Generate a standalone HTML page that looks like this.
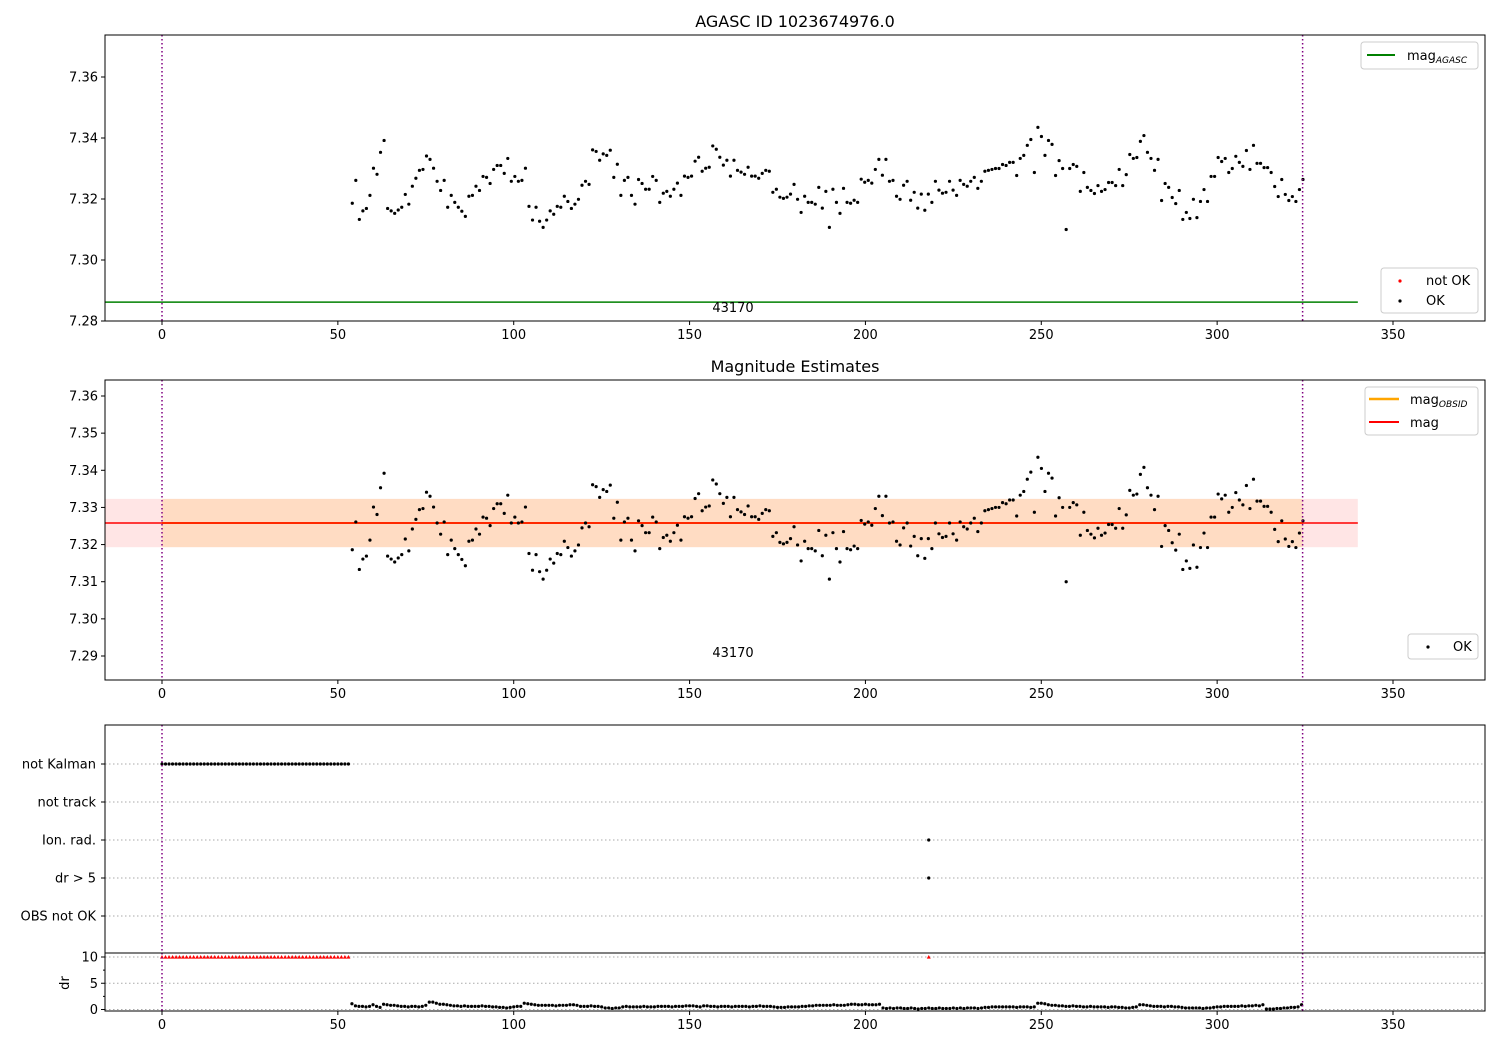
<!DOCTYPE html>
<html><head><meta charset="utf-8"><style>
body{margin:0;background:#fff;}
svg{display:block;font-family:"DejaVu Sans","Liberation Sans",sans-serif;}
</style></head><body>
<svg id="fig" width="1500" height="1050" viewBox="0 0 1500 1050" xmlns="http://www.w3.org/2000/svg"></svg>
<script>
// ---- data ----
const magValues = [
7.3186,7.3261,7.3133,7.3161,7.3169,7.3212,7.3301,7.3281,7.3353,7.3392,
7.3169,7.3161,7.3153,7.3164,7.3173,7.3215,7.3183,7.3242,7.3268,7.3294,
7.3297,7.3341,7.3330,7.3301,7.3258,7.3228,7.3261,7.3173,7.3212,7.3189,
7.3173,7.3160,7.3143,7.3209,7.3212,7.3242,7.3228,7.3274,7.3271,7.3251,
7.3297,7.3310,7.3310,7.3284,7.3333,7.3258,7.3274,7.3258,7.3261,7.3301,
7.3176,7.3131,7.3173,7.3127,7.3107,7.3131,7.3161,7.3150,7.3176,7.3173,
7.3209,7.3192,7.3169,7.3183,7.3199,7.3245,7.3258,7.3248,7.3361,7.3356,
7.3327,7.3348,7.3343,7.3360,7.3271,7.3314,7.3212,7.3261,7.3271,7.3212,
7.3183,7.3264,7.3251,7.3232,7.3232,7.3274,7.3261,7.3189,7.3219,7.3225,7.3209,
7.3232,7.3252,7.3212,7.3275,7.3271,7.3275,7.3324,7.3337,7.3291,7.3301,
7.3304,7.3374,7.3363,7.3337,7.3311,7.3327,7.3275,7.3327,7.3294,7.3288,
7.3281,7.3304,7.3275,7.3275,7.3268,7.3284,7.3294,7.3291,7.3222,7.3232,
7.3206,7.3202,7.3206,7.3216,7.3248,7.3199,7.3156,7.3209,7.3189,7.3189,
7.3183,7.3238,7.3170,7.3225,7.3107,7.3232,7.3189,7.3153,7.3235,7.3189,
7.3186,7.3196,7.3189,7.3265,7.3255,7.3261,7.3252,7.3297,7.3330,7.3278,
7.3330,7.3258,7.3261,7.3209,7.3199,7.3245,7.3258,7.3196,7.3222,7.3170,
7.3216,7.3163,7.3216,7.3189,7.3258,7.3229,7.3219,7.3222,7.3258,7.3229,
7.3212,7.3261,7.3248,7.3242,7.3258,7.3271,7.3235,7.3258,7.3291,7.3294,
7.3297,7.3300,7.3300,7.3313,7.3310,7.3320,7.3320,7.3277,7.3333,7.3343,
7.3376,7.3395,7.3287,7.3435,7.3405,7.3343,7.3392,7.3379,7.3277,7.3326,
7.3300,7.3100,7.3300,7.3313,7.3307,7.3225,7.3287,7.3238,7.3228,7.3218,
7.3244,7.3225,7.3231,7.3254,7.3254,7.3244,7.3297,7.3244,7.3280,7.3346,
7.3333,7.3336,7.3389,7.3408,7.3353,7.3333,7.3294,7.3330,7.3195,7.3251,
7.3238,7.3205,7.3185,7.3228,7.3133,7.3156,7.3136,7.3199,7.3139,7.3192,
7.3231,7.3192,7.3274,7.3274,7.3336,7.3323,7.3333,7.3287,7.3300,7.3340,
7.3320,7.3307,7.3359,7.3297,7.3376,7.3317,7.3317,7.3303,7.3303,7.3287,
7.3241,7.3208,7.3264,7.3215,7.3195,7.3208,7.3192,7.3231,7.3264];
const magTimeStart = 54.1, magTimeEnd = 324.4;
const drValues = [
1.1,0.7,0.6,0.6,0.5,0.6,0.9,0.6,0.4,1.0, 0.9,0.8,0.8,0.7,0.6,0.6,0.5,0.6,0.6,0.5,
0.6,0.8,1.4,1.4,1.2,1.0,1.0,0.9,0.8,0.7, 0.7,0.6,0.7,0.6,0.6,0.6,0.6,0.7,0.6,0.6,
0.5,0.5,0.4,0.4,0.3,0.4,0.5,0.6,0.6,1.2, 1.1,1.0,0.9,0.8,0.8,0.8,0.8,0.8,0.7,0.8,
0.8,0.8,0.9,0.9,0.8,0.6,0.6,0.6,0.7,0.6, 0.6,0.5,0.3,0.3,0.2,0.3,0.3,0.5,0.6,0.5,
0.5,0.5,0.5,0.6,0.5,0.5,0.5,0.6,0.6,0.6, 0.6,0.5,0.6,0.6,0.6,0.7,0.7,0.7,0.6,0.5,
0.7,0.7,0.6,0.6,0.5,0.6,0.6,0.6,0.5,0.6, 0.6,0.6,0.6,0.5,0.6,0.6,0.7,0.6,0.6,0.6,
0.5,0.4,0.4,0.4,0.5,0.5,0.5,0.5,0.6,0.6, 0.7,0.7,0.8,0.8,0.8,0.8,0.8,0.9,0.8,0.8,
0.8,0.9,1.0,1.0,0.9,0.9,1.0,0.9,0.9,0.9, 1.0,0.3,0.2,0.3,0.2,0.3,0.3,0.2,0.2,0.3,
0.2,0.1,0.2,0.2,0.3,0.2,0.2,0.3,0.2,0.2, 0.2,0.3,0.2,0.3,0.2,0.3,0.3,0.3,0.2,0.3,
0.4,0.4,0.5,0.5,0.5,0.5,0.5,0.5,0.5,0.4, 0.5,0.5,0.5,0.4,0.5,1.2,1.2,1.1,0.9,0.8,
0.8,0.7,0.7,0.6,0.6,0.7,0.6,0.6,0.5,0.5, 0.6,0.5,0.5,0.5,0.5,0.4,0.5,0.5,0.4,0.4,
0.3,0.3,0.4,0.5,0.9,0.9,0.8,0.7,0.6,0.6, 0.6,0.5,0.6,0.6,0.5,0.5,0.4,0.3,0.3,0.3,
0.3,0.3,0.2,0.3,0.3,0.4,0.5,0.5,0.6,0.6, 0.6,0.6,0.6,0.7,0.6,0.7,0.7,0.8,0.7,0.9,
0.1,0.1,0.1,0.2,0.2,0.3,0.3,0.4,0.4,0.5,0.9];
const drTimeStart = 54;
const notOkTimes = [0,1,2,3,4,5,6,7,8,9,10,11,12,13,14,15,16,17,18,19,20,21,22,23,24,25,26,27,28,29,30,31,32,33,34,35,36,37,38,39,40,41,42,43,44,45,46,47,48,49,50,51,52,53,218];
const ionRadTimes = [218];
const drGt5Times = [218];
const flagRows = ["not Kalman","not track","Ion. rad.","dr > 5","OBS not OK"];
const magAgasc = 7.2862;
const magObsid = 7.3258;
const magMean = 7.3258;
const magStd = 0.0065;
const obsStart = 0, obsEnd = 324.3;
const obsidLabel = "43170";
const xTicks = [0,50,100,150,200,250,300,350];
const p1Ticks = [7.28,7.30,7.32,7.34,7.36];
const p2Ticks = [7.29,7.30,7.31,7.32,7.33,7.34,7.35,7.36];
const drTicks = [0,5,10];
const drMinor = [2.5,7.5];

// ---- drawing ----
const svg = document.getElementById('fig');
const NS = 'http://www.w3.org/2000/svg';
function mk(tag, attrs, parent){const e=document.createElementNS(NS,tag);for(const k in attrs)e.setAttribute(k,attrs[k]);(parent||svg).appendChild(e);return e;}
const L=105,R=1485;
const xs = t => 162 + t*(1393-162)/350;
function yLin(v0,p0,v1,p1){return v=>p0+(v-v0)*(p1-p0)/(v1-v0);}
const y1 = yLin(7.28,321,7.36,77);
const y2 = yLin(7.29,656,7.36,396);
const yd = yLin(0,1009.5,10,957);
const magTimes = magValues.map((v,i)=>magTimeStart+i*(magTimeEnd-magTimeStart)/(magValues.length-1));

function frame(top,bot,name){
  const r=mk('rect',{x:L,y:top,width:R-L,height:bot-top,fill:'none',stroke:'#000','stroke-width':1});
  
  
}
function xAxis(bot,labels){
  xTicks.forEach(t=>{
    const l=mk('line',{x1:xs(t),x2:xs(t),y1:bot,y2:bot+4,stroke:'#000'});
    
    
    if(labels){const tx=mk('text',{x:xs(t),y:bot+18,'font-size':13,'text-anchor':'middle'});tx.textContent=t;
      
      }
  });
}
function yAxis(ticks,ys,fmt){
  ticks.forEach(v=>{
    const l=mk('line',{x1:L-4,x2:L,y1:ys(v),y2:ys(v),stroke:'#000'});
    
    
    const tx=mk('text',{x:L-7,y:ys(v)+4.5,'font-size':13,'text-anchor':'end'});tx.textContent=fmt(v);
    
    
  });
}
function vlines(top,bot){
  [obsStart,obsEnd].forEach(t=>{
    const l=mk('line',{x1:xs(t),x2:xs(t),y1:top,y2:bot,stroke:'#800080','stroke-width':1.5,'stroke-dasharray':'1.5,2.5'});
    
    
  });
}
function dots(ts,vs,ys,color,name){
  ts.forEach((t,i)=>{const c=mk('circle',{cx:xs(t),cy:ys(vs[i]),r:1.6,fill:color});
    
    });
}
function txt(x,y,s,size,anchor,name){const t=mk('text',{x:x,y:y,'font-size':size,'text-anchor':anchor||'start'});t.textContent=s;
  
  return t;}

// Titles
txt(795,27,'AGASC ID 1023674976.0',16,'middle','chart-title');
txt(795,372,'Magnitude Estimates',16,'middle','panel-title');

// Panel 1
const g1=mk('line',{x1:xs(-16.2),x2:xs(340),y1:y1(magAgasc),y2:y1(magAgasc),stroke:'green','stroke-width':1.5});


dots(magTimes,magValues,y1,'#000','mag-point');
vlines(35,321);
txt(733,312,obsidLabel,13,'middle','obsid-label');
frame(35,321,'panel-agasc');
xAxis(321,true);
yAxis(p1Ticks,y1,v=>v.toFixed(2));

// Legends panel 1
function legendBox(x,y,w,h,name){const r=mk('rect',{x:x,y:y,width:w,height:h,rx:3,fill:'#fff','fill-opacity':0.8,stroke:'#ccc'});
  
  }
legendBox(1361,42,117,27,'legend-agasc');
mk('line',{x1:1367,x2:1395,y1:55,y2:55,stroke:'green','stroke-width':2});
const lt1=txt(1407,60,'mag',13,'start','legend-entry-mag-agasc');
const s1=mk('tspan',{'font-size':9,'font-style':'italic',dy:3});s1.textContent='AGASC';lt1.appendChild(s1);
legendBox(1381,268,97,45,'legend-ok');
mk('circle',{cx:1400,cy:281,r:1.6,fill:'red'});
txt(1426,285,'not OK',13,'start','legend-entry-not-ok');
mk('circle',{cx:1400,cy:301,r:1.6,fill:'#000'});
txt(1426,305,'OK',13,'start','legend-entry-ok');

// Panel 2
const band=mk('rect',{x:xs(-16.2),y:y2(magMean+magStd),width:xs(340)-xs(-16.2),height:y2(magMean-magStd)-y2(magMean+magStd),fill:'red','fill-opacity':0.1});


const band2=mk('rect',{x:xs(obsStart),y:y2(magObsid+magStd),width:xs(obsEnd)-xs(obsStart),height:y2(magObsid-magStd)-y2(magObsid+magStd),fill:'orange','fill-opacity':0.15});


const ol=mk('line',{x1:xs(obsStart),x2:xs(obsEnd),y1:y2(magObsid),y2:y2(magObsid),stroke:'orange','stroke-width':2});


const rl=mk('line',{x1:xs(-16.2),x2:xs(340),y1:y2(magMean),y2:y2(magMean),stroke:'red','stroke-width':1.5});


dots(magTimes,magValues,y2,'#000','mag-estimate-point');
vlines(380,680);
txt(733,657,obsidLabel,13,'middle','obsid-label-2');
frame(380,680,'panel-magnitude-estimates');
xAxis(680,true);
yAxis(p2Ticks,y2,v=>v.toFixed(2));
legendBox(1365,387,113,48,'legend-mag');
mk('line',{x1:1369,x2:1399,y1:399,y2:399,stroke:'orange','stroke-width':2.5});
const lt2=txt(1410,404,'mag',13,'start','legend-entry-mag-obsid');
const s2=mk('tspan',{'font-size':9,'font-style':'italic',dy:3});s2.textContent='OBSID';lt2.appendChild(s2);
mk('line',{x1:1369,x2:1399,y1:422,y2:422,stroke:'red','stroke-width':2});
txt(1410,427,'mag',13,'start','legend-entry-mag');
legendBox(1408,634,70,25,'legend-ok-2');
mk('circle',{cx:1428,cy:647,r:1.6,fill:'#000'});
txt(1453,651,'OK',13,'start','legend-entry-ok-2');

// Panel 3 flags
const rowY = i => 764 + i*38;
flagRows.forEach((name,i)=>{
  const gl=mk('line',{x1:L,x2:R,y1:rowY(i),y2:rowY(i),stroke:'#aaa','stroke-dasharray':'1.5,2.5'});
  
  
  const tk=mk('line',{x1:L-4,x2:L,y1:rowY(i),y2:rowY(i),stroke:'#000'});
  
  
  txt(L-9,rowY(i)+4.5,name,13,'end','flag-label');
});
const kalTimes = notOkTimes.filter(t=>t<54);
dots(kalTimes,kalTimes.map(()=>0),()=>rowY(0),'#000','not-kalman-point');
dots(ionRadTimes,ionRadTimes.map(()=>0),()=>rowY(2),'#000','ion-rad-point');
dots(drGt5Times,drGt5Times.map(()=>0),()=>rowY(3),'#000','dr-gt5-point');
vlines(725,953);
frame(725,953,'panel-flags');

// Panel 4 dr
drTicks.forEach(v=>{const gl=mk('line',{x1:L,x2:R,y1:yd(v),y2:yd(v),stroke:'#aaa','stroke-dasharray':'1.5,2.5'});
  
  });
drMinor.forEach(v=>{const l=mk('line',{x1:L-2,x2:L,y1:yd(v),y2:yd(v),stroke:'#000'});
  
  });
const drTimes = drValues.map((v,i)=>drTimeStart+i);
dots(drTimes,drValues,yd,'#000','dr-point');
notOkTimes.forEach(t=>{
  const x=xs(t),y=yd(10);
  const p=mk('path',{d:`M${x-2},${y+1.6} L${x+2},${y+1.6} L${x},${y-2} Z`,fill:'red'});
  
  
});
vlines(953,1011);
frame(953,1011,'panel-dr');
xAxis(1011,true);
yAxis(drTicks,yd,v=>String(v));
const dl=mk('text',{x:69,y:983,'font-size':13,'text-anchor':'middle',transform:'rotate(-90 69 983)'});dl.textContent='dr';


</script>
</body></html>
